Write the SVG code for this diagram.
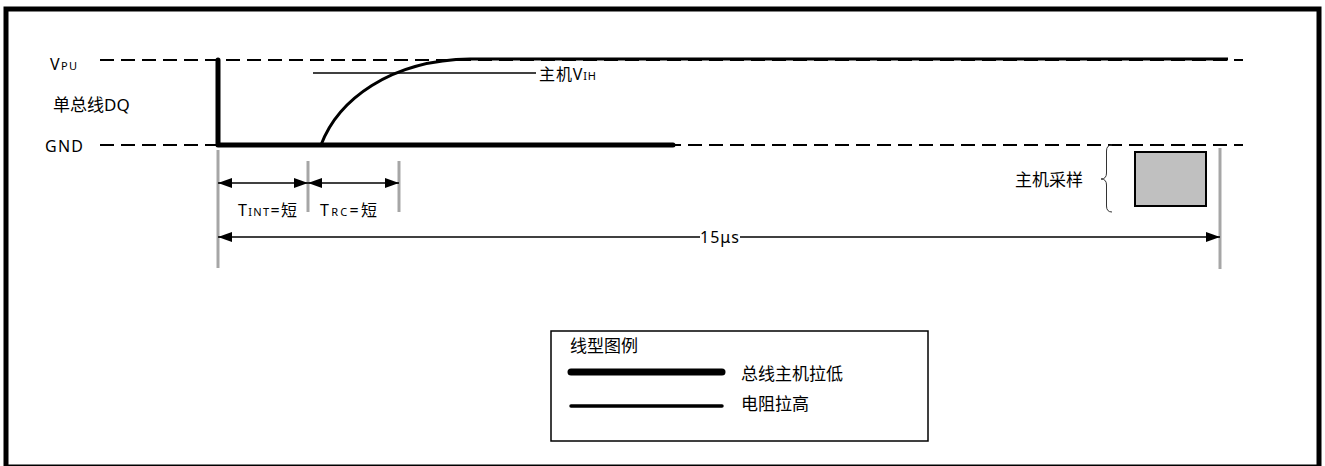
<svg xmlns="http://www.w3.org/2000/svg" width="1325" height="466" viewBox="0 0 1325 466">
<style>
  text { font-family: "Noto Sans", "Noto Sans CJK SC", sans-serif; fill: #000; }
  .lbl { font-size: 17px; }
  .sub { font-size: 11px; }
  .dash { fill: none; stroke: #000; stroke-width: 2; stroke-dasharray: 14 7; }
  .low { fill: none; stroke: #000; stroke-width: 5; stroke-linecap: round; stroke-linejoin: round; }
  .high { fill: none; stroke: #000; stroke-width: 3; stroke-linecap: butt; }
  .thin { fill: none; stroke: #000; stroke-width: 1.3; }
  .mark { fill: none; stroke: #a6a6a6; stroke-width: 3; }
  .dim { fill: none; stroke: #000; stroke-width: 1.3; marker-start: url(#ah); marker-end: url(#ah); }
</style>
<defs>
  <marker id="ah" markerUnits="userSpaceOnUse" markerWidth="14" markerHeight="10" refX="14" refY="5" orient="auto-start-reverse">
    <path d="M0,0 L14,5 L0,10 z" fill="#000"/>
  </marker>
</defs>
<rect width="1325" height="466" fill="#fff"/>
<rect id="frame" x="6" y="9" width="1313" height="458" fill="none" stroke="#000" stroke-width="5"/>

<g id="levels">
  <path class="dash" d="M100,60 H1243"/>
  <path class="dash" d="M100,145 H1243"/>
  <text class="lbl" x="50" y="69.5" textLength="27" lengthAdjust="spacing" style="font-size:16px">V<tspan class="sub">PU</tspan></text>
  <text class="lbl" x="53" y="111">单总线DQ</text>
  <text class="lbl" x="45" y="152" style="font-size:16px" textLength="38" lengthAdjust="spacing">GND</text>
</g>

<g id="signal-low">
  <path class="low" d="M218,60 V145 H673"/>
</g>
<g id="signal-high">
  <path class="high" d="M321,145 C338,100 390,60 470,59 H1228"/>
</g>
<g id="vih">
  <path class="thin" d="M313,73 H536"/>
  <text class="lbl" x="539" y="80" textLength="57" lengthAdjust="spacing" style="font-size:16px">主机V<tspan class="sub">IH</tspan></text>
</g>

<g id="connectors">
  <path class="mark" d="M218,150 V268"/>
  <path class="mark" d="M308,161 V212"/>
  <path class="mark" d="M399,161 V212"/>
  <path class="mark" d="M1220,148 V269"/>
  <path class="dim" d="M218,183 H308"/>
  <path class="dim" d="M308,183 H399"/>
  <path fill="none" stroke="#000" stroke-width="1.3" marker-start="url(#ah)" d="M218,237 H700"/>
  <path fill="none" stroke="#000" stroke-width="1.3" marker-end="url(#ah)" d="M740,237 H1220"/>
</g>

<g id="timing-labels">
  <text class="lbl" x="238" y="216" textLength="59" lengthAdjust="spacing" style="font-size:16px">T<tspan class="sub">INT</tspan>=短</text>
  <text class="lbl" x="320" y="216" textLength="57" lengthAdjust="spacing" style="font-size:16px">T<tspan class="sub">RC</tspan>=短</text>
  <text class="lbl" x="700" y="243" textLength="39" lengthAdjust="spacing" style="font-size:16px">15μs</text>
</g>

<g id="sample">
  <text class="lbl" x="1015" y="186">主机采样</text>
  <path fill="none" stroke="#333" stroke-width="1" d="M1112,145 Q1106.5,145 1106.5,151 V173 Q1106.5,179 1101,179 Q1106.5,179 1106.5,185 V206 Q1106.5,212 1112,212"/>
  <rect x="1135" y="152" width="71" height="54" fill="#c0c0c0" stroke="#000" stroke-width="2"/>
</g>

<g id="legend">
  <rect x="551" y="331" width="377" height="110" fill="#fff" stroke="#000" stroke-width="1.5"/>
  <text class="lbl" x="570" y="352">线型图例</text>
  <path fill="none" stroke="#000" stroke-width="7" stroke-linecap="round" d="M571,372 H722"/>
  <path fill="none" stroke="#000" stroke-width="3.5" stroke-linecap="round" d="M571,406 H722"/>
  <text class="lbl" x="741" y="380">总线主机拉低</text>
  <text class="lbl" x="741" y="410">电阻拉高</text>
</g>
</svg>
